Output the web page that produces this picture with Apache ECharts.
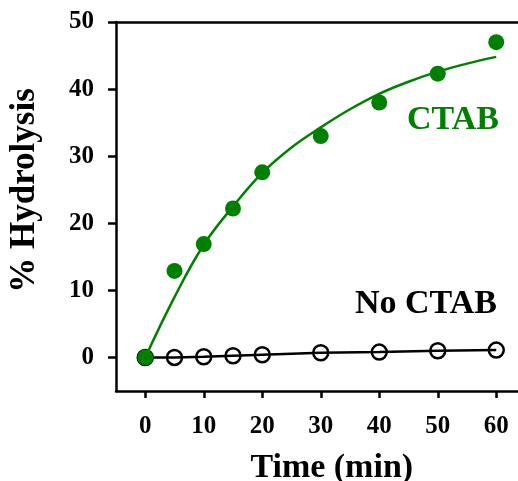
<!DOCTYPE html>
<html>
<head>
<meta charset="utf-8">
<script src="https://cdn.jsdelivr.net/npm/echarts@6/dist/echarts.min.js"></script>
<style>
  html, body { margin: 0; padding: 0; background: #fff; }
  #hydrolysisChart { width: 518px; height: 481px; }
</style>
</head>
<body>
<div id="hydrolysisChart"></div>
<script>
// 时间点 (min)
var timePoints = [0, 5, 10, 15, 20, 30, 40, 50, 60];
// CTAB 实测值
var ctabValues = [0, 12.9, 16.9, 22.2, 27.6, 33.0, 38.0, 42.3, 47.0];
// 无 CTAB 实测值
var noCtabValues = [0, 0.0, 0.1, 0.25, 0.4, 0.7, 0.8, 1.0, 1.1];
// CTAB 拟合曲线 (every 5 min)
var fitTimes = [0, 5, 10, 15, 20, 25, 30, 35, 40, 45, 50, 55, 60];
var fitValues = [0, 9.0, 16.8, 22.5, 27.5, 31.3, 34.3, 37.0, 39.3, 41.1, 42.6, 43.8, 44.8];
// 刻度
var xTicks = [0, 10, 20, 30, 40, 50, 60];
var yTicks = [0, 10, 20, 30, 40, 50];

var green = '#008000';
var font = "'Liberation Serif', 'Times New Roman', serif";

function pairs(xs, ys) {
  return xs.map(function (x, i) { return [x, ys[i]]; });
}

var chart = echarts.init(document.getElementById('hydrolysisChart'));
chart.setOption({
  animation: false,
  grid: { left: 116, top: 22, right: -7.5, bottom: 90, containLabel: false, outerBoundsMode: 'none' },
  xAxis: [
    {
      type: 'value',
      min: -5,
      max: 65,
      position: 'bottom',
      name: 'Time (min)',
      nameLocation: 'middle',
      nameGap: 60,
      nameTextStyle: { fontFamily: font, fontWeight: 'bold', fontSize: 34, color: '#000', padding: [0, 0, 0, 22] },
      axisLine: { show: true, onZero: false, lineStyle: { color: '#000', width: 2.5 } },
      axisTick: { show: true, length: 7, customValues: xTicks, lineStyle: { color: '#000', width: 2.5 } },
      axisLabel: { customValues: xTicks, margin: 23, fontFamily: font, fontWeight: 'bold', fontSize: 25, color: '#000' },
      splitLine: { show: false }
    },
    {
      type: 'value',
      min: -5,
      max: 65,
      position: 'top',
      axisLine: { show: true, onZero: false, lineStyle: { color: '#000', width: 2.5 } },
      axisTick: { show: false },
      axisLabel: { show: false },
      splitLine: { show: false }
    }
  ],
  yAxis: {
    type: 'value',
    min: -5,
    max: 50,
    name: '% Hydrolysis',
    nameLocation: 'middle',
    nameRotate: 90,
    nameGap: 74,
    nameTextStyle: { fontFamily: font, fontWeight: 'bold', fontSize: 35, color: '#000', padding: [0, 0, 0, 32] },
    axisLine: { show: true, onZero: false, lineStyle: { color: '#000', width: 2.5 } },
    axisTick: { show: true, length: 8, customValues: yTicks, lineStyle: { color: '#000', width: 2.5 } },
    axisLabel: { customValues: yTicks, margin: 22, fontFamily: font, fontWeight: 'bold', fontSize: 25, color: '#000' },
    splitLine: { show: false }
  },
  series: [
    {
      name: 'No CTAB',
      type: 'line',
      data: pairs(timePoints, noCtabValues),
      symbol: 'circle',
      symbolSize: 15,
      showAllSymbol: true,
      lineStyle: { color: '#000', width: 2.5 },
      itemStyle: { color: 'rgba(0,0,0,0)', borderColor: '#000', borderWidth: 2.5 },
      z: 2
    },
    {
      name: 'CTAB',
      type: 'scatter',
      data: pairs(timePoints, ctabValues),
      symbol: 'circle',
      symbolSize: 16,
      itemStyle: { color: green, opacity: 1 },
      z: 3
    },
    {
      name: 'CTAB fit',
      type: 'line',
      data: pairs(fitTimes, fitValues),
      smooth: 0.4,
      symbol: 'none',
      lineStyle: { color: green, width: 2.5 },
      z: 4
    }
  ],
  graphic: [
    {
      type: 'text',
      left: 407,
      top: 103,
      style: { text: 'CTAB', fill: green, font: 'bold 34px ' + font }
    },
    {
      type: 'text',
      left: 355,
      top: 287,
      style: { text: 'No CTAB', fill: '#000', font: 'bold 34px ' + font }
    }
  ]
});
</script>
</body>
</html>
